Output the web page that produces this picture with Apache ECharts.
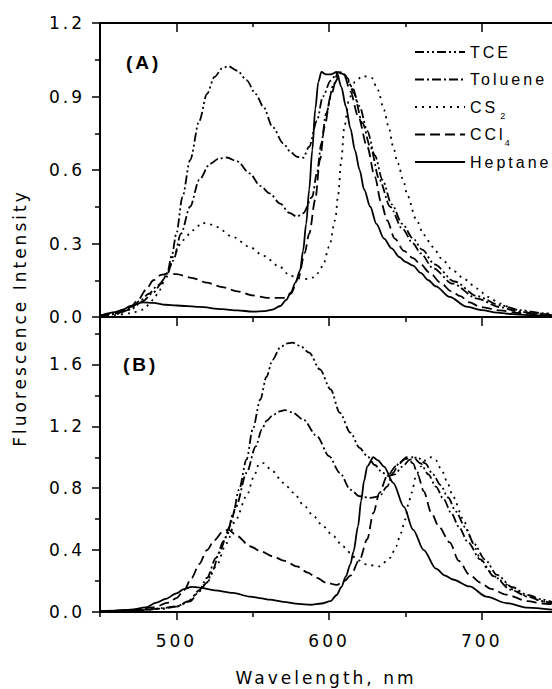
<!DOCTYPE html>
<html><head><meta charset="utf-8">
<script src="https://cdn.jsdelivr.net/npm/echarts@6/dist/echarts.min.js"></script>
<style>
html,body{margin:0;padding:0;background:#fff;}
#chart{width:552px;height:689px;letter-spacing:3px;}
</style></head>
<body><div id="chart"></div>
<script>
// ---------- DATA (wavelength nm, normalized intensity) ----------
const seriesNames = ['TCE', 'Toluene', 'CS2', 'CCl4', 'Heptane'];
const xMajorTicks = [500, 600, 700];
const xMinorTicks = [450, 550, 650];
const yTicksB = [0, 0.4, 0.8, 1.2, 1.6];
const yMinorTicksB = [0.2, 0.6, 1.0, 1.4, 1.8];

// Panel (A)
const TCE_A = [[450,0.005],[460,0.012],[470,0.03],[478,0.065],[485,0.10],[490,0.135],[494,0.18],[497,0.25],[500,0.34],[504,0.49],[509,0.64],[515,0.80],[520,0.91],[525,0.98],[530,1.015],[534,1.024],[540,1.005],[546,0.967],[552,0.91],[557,0.858],[563,0.776],[570,0.709],[575,0.672],[579,0.654],[583,0.65],[587,0.695],[592,0.80],[596,0.90],[601,0.965],[606,1.0],[610,0.99],[615,0.94],[620,0.86],[625,0.76],[630,0.66],[635,0.56],[641,0.46],[648,0.38],[655,0.32],[661,0.275],[669,0.215],[682,0.145],[697,0.085],[712,0.048],[725,0.028],[740,0.016],[746,0.013]];
const TOL_A = [[450,0.004],[460,0.012],[470,0.035],[476,0.065],[482,0.095],[488,0.13],[493,0.16],[498,0.23],[503,0.34],[509,0.45],[515,0.56],[522,0.625],[528,0.647],[533,0.651],[540,0.635],[548,0.586],[555,0.535],[561,0.505],[568,0.463],[574,0.425],[579,0.41],[583,0.423],[589,0.49],[592,0.586],[595,0.71],[598,0.83],[603,0.95],[608,1.0],[612,0.975],[616,0.915],[622,0.79],[627,0.695],[633,0.56],[640,0.45],[648,0.36],[655,0.30],[660,0.26],[668,0.20],[681,0.136],[697,0.075],[712,0.04],[725,0.02],[740,0.012],[746,0.01]];
const CS2_A = [[450,0.004],[460,0.008],[470,0.015],[478,0.03],[485,0.07],[489,0.11],[494,0.18],[499,0.26],[504,0.313],[511,0.354],[517,0.385],[522,0.378],[526,0.368],[537,0.327],[548,0.286],[557,0.25],[568,0.204],[574,0.17],[580,0.158],[586,0.155],[590,0.162],[593,0.18],[596,0.21],[600,0.286],[604,0.395],[606,0.50],[608,0.64],[610,0.776],[613,0.886],[617,0.96],[622,0.984],[628,0.976],[632,0.926],[636,0.845],[639,0.776],[642,0.695],[645,0.627],[649,0.55],[651,0.50],[657,0.40],[662,0.335],[668,0.286],[674,0.236],[681,0.19],[689,0.153],[697,0.116],[704,0.082],[712,0.055],[720,0.034],[727,0.02],[738,0.014],[746,0.01]];
const CCL4_A = [[450,0.005],[460,0.015],[470,0.04],[475,0.07],[480,0.11],[485,0.15],[490,0.172],[495,0.178],[500,0.175],[510,0.16],[520,0.14],[530,0.122],[540,0.105],[550,0.088],[560,0.078],[570,0.078],[575,0.095],[580,0.16],[584,0.26],[587,0.34],[591,0.48],[594,0.64],[597,0.776],[601,0.90],[606,1.0],[610,0.985],[614,0.92],[619,0.82],[625,0.695],[630,0.572],[634,0.47],[638,0.395],[643,0.32],[649,0.27],[655,0.24],[660,0.215],[666,0.18],[673,0.14],[680,0.105],[686,0.085],[692,0.06],[699,0.041],[712,0.027],[725,0.016],[740,0.01],[746,0.008]];
const HEP_A = [[450,0.005],[460,0.02],[465,0.03],[470,0.045],[478,0.06],[485,0.058],[493,0.05],[500,0.047],[515,0.041],[530,0.032],[540,0.027],[550,0.022],[558,0.024],[563,0.03],[568,0.045],[572,0.07],[575,0.10],[578,0.14],[581,0.19],[583,0.27],[585,0.38],[587,0.52],[589,0.68],[591,0.85],[593,0.96],[595,1.0],[598,0.99],[601,0.99],[605,1.0],[608,0.94],[611,0.86],[614,0.77],[617,0.68],[620,0.60],[623,0.52],[627,0.45],[631,0.38],[636,0.32],[641,0.28],[646,0.245],[650,0.225],[655,0.21],[660,0.18],[665,0.15],[670,0.125],[679,0.082],[690,0.042],[700,0.028],[710,0.018],[720,0.012],[730,0.008],[746,0.004]];

// Panel (B)
const TCE_B = [[450,0.005],[470,0.01],[482,0.015],[490,0.025],[500,0.036],[509,0.069],[515,0.133],[520,0.19],[524,0.274],[528,0.382],[533,0.49],[537,0.63],[541,0.79],[546,0.986],[550,1.18],[555,1.374],[559,1.52],[563,1.63],[568,1.709],[572,1.735],[576,1.741],[581,1.72],[587,1.676],[594,1.568],[601,1.439],[607,1.288],[614,1.159],[620,1.061],[625,1.007],[630,0.95],[635,0.90],[639,0.88],[643,0.89],[648,0.94],[653,0.985],[658,1.0],[663,0.96],[668,0.89],[673,0.82],[678,0.74],[683,0.65],[689,0.55],[695,0.44],[702,0.34],[710,0.24],[720,0.16],[730,0.11],[740,0.08],[746,0.065]];
const TOL_B = [[450,0.005],[470,0.01],[490,0.022],[500,0.035],[508,0.07],[515,0.14],[520,0.22],[526,0.35],[531,0.46],[535,0.555],[539,0.68],[546,0.90],[552,1.07],[556,1.18],[559,1.235],[563,1.27],[567,1.295],[571,1.305],[576,1.29],[583,1.245],[592,1.137],[600,1.007],[607,0.90],[614,0.79],[620,0.748],[627,0.738],[633,0.748],[638,0.81],[642,0.90],[646,0.965],[650,0.99],[655,1.0],[660,0.96],[665,0.89],[670,0.81],[675,0.73],[680,0.64],[685,0.55],[691,0.45],[699,0.34],[708,0.23],[719,0.144],[730,0.10],[740,0.07],[746,0.055]];
const CS2_B = [[450,0.003],[470,0.008],[490,0.02],[500,0.035],[509,0.075],[515,0.14],[520,0.19],[526,0.295],[533,0.446],[539,0.597],[546,0.75],[551,0.88],[554,0.955],[557,0.962],[563,0.91],[570,0.835],[577,0.77],[583,0.694],[590,0.619],[596,0.554],[603,0.489],[609,0.425],[614,0.382],[618,0.339],[625,0.306],[633,0.295],[640,0.35],[644,0.425],[647,0.51],[650,0.60],[652,0.70],[654,0.77],[657,0.88],[660,0.94],[664,0.99],[667,1.0],[670,0.98],[674,0.91],[678,0.824],[681,0.748],[688,0.60],[692,0.49],[696,0.41],[699,0.34],[705,0.26],[712,0.205],[721,0.144],[730,0.10],[740,0.069],[746,0.06]];
const CCL4_B = [[450,0.005],[470,0.01],[485,0.03],[495,0.06],[500,0.09],[505,0.14],[510,0.22],[515,0.31],[520,0.40],[525,0.465],[530,0.515],[534,0.533],[540,0.49],[548,0.425],[556,0.39],[563,0.36],[571,0.33],[579,0.295],[586,0.255],[592,0.22],[598,0.19],[605,0.175],[610,0.2],[614,0.235],[620,0.339],[625,0.47],[629,0.64],[633,0.77],[638,0.878],[644,0.943],[651,1.0],[655,0.96],[658,0.89],[662,0.78],[667,0.64],[672,0.55],[679,0.45],[685,0.33],[692,0.24],[699,0.19],[706,0.15],[716,0.112],[730,0.07],[740,0.055],[746,0.05]];
const HEP_B = [[450,0.005],[460,0.008],[470,0.015],[480,0.03],[487,0.06],[493,0.085],[500,0.12],[505,0.148],[510,0.163],[515,0.158],[525,0.14],[537,0.123],[548,0.10],[556,0.088],[561,0.08],[570,0.066],[580,0.052],[588,0.047],[595,0.055],[601,0.07],[605,0.11],[608,0.16],[611,0.23],[614,0.31],[616,0.39],[619,0.555],[621,0.72],[623,0.85],[625,0.94],[629,1.0],[632,0.98],[636,0.94],[642,0.835],[649,0.68],[655,0.533],[662,0.40],[670,0.28],[676,0.235],[681,0.21],[692,0.165],[703,0.10],[716,0.058],[730,0.028],[746,0.015]];

const panelA = {TCE: TCE_A, Toluene: TOL_A, CS2: CS2_A, CCl4: CCL4_A, Heptane: HEP_A};
const panelB = {TCE: TCE_B, Toluene: TOL_B, CS2: CS2_B, CCl4: CCL4_B, Heptane: HEP_B};

// ---------- STYLE ----------
const dashes = {TCE:[9,3,2,3,2,3], Toluene:[9,3,2,3], CS2:[2,5], CCl4:[10,5], Heptane:'solid'};
const AX_FONT = 'DejaVu Sans';
const black = '#000';

function xAx(grid, pos, ticks, len, inside, showLine, labels) {
  return {
    type:'value', gridIndex:grid, position:pos, min:450, max:746,
    axisLine:{show:showLine, onZero:false, lineStyle:{color:black, width:2}},
    axisTick:{show:true, inside:inside, length:len, customValues:ticks, lineStyle:{color:black, width:1.5}},
    axisLabel: labels ? {show:true, customValues:labels, color:black, fontFamily:AX_FONT, fontSize:17, margin:20} : {show:false},
    splitLine:{show:false}
  };
}

const xAxes = [
  xAx(0,'bottom', xMajorTicks, 9, false, true, null),
  xAx(0,'bottom', xMinorTicks, 5, false, false, null),
  xAx(0,'top', xMajorTicks, 9, true, true, null),
  xAx(0,'top', [550,650], 4, true, false, null),
  Object.assign(xAx(1,'bottom', xMajorTicks, 8, false, true, xMajorTicks), {
    name:'Wavelength, nm', nameLocation:'middle', nameGap:57,
    nameTextStyle:{color:black, fontFamily:AX_FONT, fontSize:17}
  }),
  xAx(1,'bottom', xMinorTicks, 5, false, false, null)
];

const yAxes = [
  {type:'value', gridIndex:0, position:'left', min:0, max:1.2, interval:0.3,
   axisLine:{show:true, onZero:false, lineStyle:{color:black, width:2}},
   axisTick:{show:true, length:8, lineStyle:{color:black, width:1.5}},
   minorTick:{show:true, splitNumber:2, length:5, lineStyle:{color:black, width:1.5}},
   axisLabel:{color:black, fontFamily:AX_FONT, fontSize:17, margin:15, formatter:v=>v.toFixed(1)},
   splitLine:{show:false}, minorSplitLine:{show:false}},
  {type:'value', gridIndex:1, position:'left', min:0, max:1.9,
   axisLine:{show:true, onZero:false, lineStyle:{color:black, width:2}},
   axisTick:{show:true, length:8, customValues:yTicksB, lineStyle:{color:black, width:1.5}},
   axisLabel:{color:black, fontFamily:AX_FONT, fontSize:17, margin:15, customValues:yTicksB, formatter:v=>v.toFixed(1)},
   splitLine:{show:false}},
  {type:'value', gridIndex:1, position:'left', min:0, max:1.9,
   axisLine:{show:false, onZero:false},
   axisTick:{show:true, length:5, customValues:yMinorTicksB, lineStyle:{color:black, width:1.5}},
   axisLabel:{show:false}, splitLine:{show:false}}
];

const series = [];
seriesNames.forEach(n => {
  [[panelA, 0, 0], [panelB, 4, 1]].forEach(([src, xi, yi]) => {
    series.push({
      name:n, type:'line', data:src[n], xAxisIndex:xi, yAxisIndex:yi,
      symbol:'none', smooth:0.3, smoothMonotone:'x', clip:true,
      lineStyle:{color:black, width:1.8, type:dashes[n]},
      itemStyle:{color:black}
    });
  });
});

const chart = echarts.init(document.getElementById('chart'), null, {renderer:'svg'});
chart.setOption({
  animation:false,
  backgroundColor:'#fff',
  grid:[
    {left:100, top:23, width:452, height:294, outerBoundsMode:'none'},
    {left:100, top:318, width:452, height:294, outerBoundsMode:'none'}
  ],
  xAxis:xAxes,
  yAxis:yAxes,
  legend:{
    data:seriesNames, orient:'vertical', left:409, top:34,
    itemWidth:50, itemHeight:14, itemGap:1.5,
    itemStyle:{color:'rgba(0,0,0,0)', borderWidth:0, opacity:0},
    formatter: n => n === 'CS2' ? 'CS{sub|2}' : (n === 'CCl4' ? 'CCl{sub|4}' : n),
    textStyle:{color:black, fontFamily:'Liberation Sans', fontSize:16, lineHeight:26,
      rich:{sub:{fontSize:9, lineHeight:6, verticalAlign:'bottom', padding:[0,0,0,8], color:black, fontFamily:'Liberation Sans'}}}
  },
  graphic:[
    {type:'text', left:126, top:53, style:{text:'(A)', font:'bold 19px "Liberation Sans"', fill:black}},
    {type:'text', left:123, top:355, style:{text:'(B)', font:'bold 19px "Liberation Sans"', fill:black}},
    {type:'text', x:20, y:318, rotation:Math.PI/2, style:{text:'Fluorescence Intensity', font:'17px "DejaVu Sans"', fill:black, align:'center', verticalAlign:'middle'}}
  ],
  series:series
});
</script>
</body></html>
